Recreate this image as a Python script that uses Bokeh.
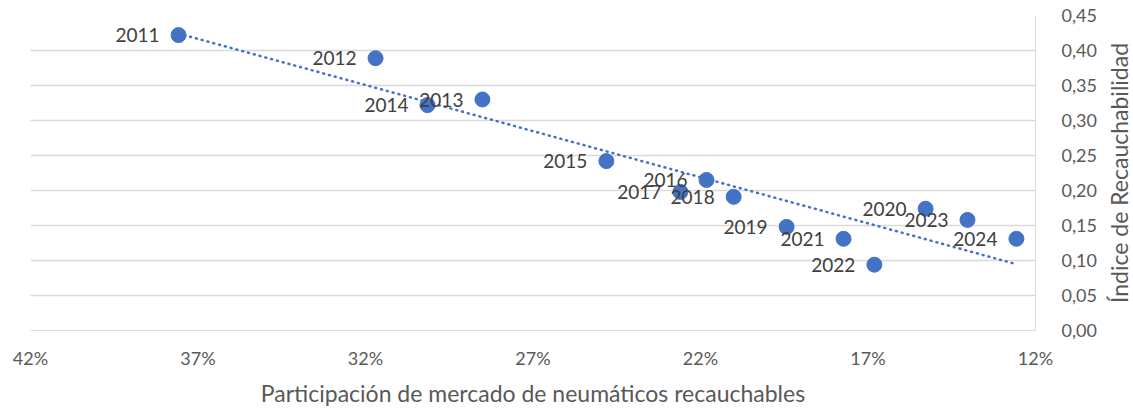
import numpy as np
from bokeh.plotting import figure
from bokeh.layouts import row
from bokeh.models import Range1d, FixedTicker, CustomJSTickFormatter, ColumnDataSource, Title
from bokeh.core.properties import value
from bokeh.embed import file_html
from bokeh.resources import INLINE

# Data
years = ["2011", "2012", "2013", "2014", "2015", "2016", "2017", "2018",
         "2019", "2020", "2021", "2022", "2023", "2024"]
market_share = [0.3758, 0.3170, 0.2851, 0.3015, 0.2481, 0.2182, 0.2260, 0.2101,
                0.1943, 0.1528, 0.1773, 0.1681, 0.1403, 0.1257]
retread_index = [0.422, 0.389, 0.330, 0.322, 0.242, 0.215, 0.198, 0.191,
                 0.148, 0.174, 0.131, 0.094, 0.158, 0.131]
x_ticks = [0.42, 0.37, 0.32, 0.27, 0.22, 0.17, 0.12]
y_ticks = [0.0, 0.05, 0.10, 0.15, 0.20, 0.25, 0.30, 0.35, 0.40, 0.45]
x_title = "Participación de mercado de neumáticos recauchables"
y_title = "Índice de Recauchabilidad"

FONT = "Lato"
BLUE = "#4472C4"
GRID = "#d9d9d9"
TXT = "#595959"
FW, FH = 1005, 315

p = figure(frame_width=FW, frame_height=FH, output_backend="svg",
           toolbar_location=None, y_axis_location="right",
           x_range=Range1d(0.42, 0.12), y_range=Range1d(0, 0.45),
           min_border_left=30, min_border_top=15, min_border_right=67,
           min_border_bottom=5)
p.outline_line_color = None
p.background_fill_color = "white"

# trend line (linear regression of the data)
slope, intercept = np.polyfit(market_share, retread_index, 1)
xs = np.array([max(market_share), min(market_share)])
p.line(xs, slope * xs + intercept, line_color=BLUE, line_width=2.5,
       line_dash="1 5", line_cap="round")

src = ColumnDataSource(dict(x=market_share, y=retread_index, year=years))
p.scatter("x", "y", source=src, size=15, fill_color=BLUE, line_color=BLUE)
p.text("x", "y", text="year", source=src, x_offset=-19, text_align="right",
       text_baseline="middle", text_font=value(FONT), text_font_size="19px",
       text_color="#404040")

# grid
p.xgrid.grid_line_color = None
p.ygrid.grid_line_color = GRID
p.ygrid.grid_line_width = 1.3

# x axis
xa = p.xaxis[0]
xa.ticker = FixedTicker(ticks=x_ticks)
xa.formatter = CustomJSTickFormatter(code="return Math.round(tick*100) + '%';")
xa.axis_line_color = GRID
xa.major_tick_line_color = None
xa.minor_tick_line_color = None
xa.major_label_standoff = 10
xa.major_label_text_font = FONT
xa.major_label_text_font_size = "18px"
xa.major_label_text_color = TXT
xa.axis_label = x_title
xa.axis_label_text_font = FONT
xa.axis_label_text_font_size = "23px"
xa.axis_label_text_font_style = "normal"
xa.axis_label_text_color = TXT
xa.axis_label_standoff = 7

# y axis (right)
ya = p.yaxis[0]
ya.ticker = FixedTicker(ticks=y_ticks)
ya.formatter = CustomJSTickFormatter(code="return tick.toFixed(2).replace('.', ',');")
ya.axis_line_color = GRID
ya.major_tick_line_color = None
ya.minor_tick_line_color = None
ya.major_label_standoff = 20
ya.major_label_text_font = FONT
ya.major_label_text_font_size = "18px"
ya.major_label_text_color = TXT

# narrow companion figure carrying the y-axis title (reads bottom-to-top)
p2 = figure(frame_width=1, frame_height=FH, output_backend="svg",
            toolbar_location=None, x_axis_location=None, y_axis_location=None,
            min_border_left=0, min_border_right=0, min_border_top=15,
            min_border_bottom=5)
p2.outline_line_color = None
p2.xgrid.grid_line_color = None
p2.ygrid.grid_line_color = None
p2.add_layout(Title(text=y_title, align="center", text_font=FONT,
                    text_font_size="23px", text_font_style="normal",
                    text_color=TXT, standoff=0, offset=0), "left")

layout = row(p, p2, spacing=0)
open("out.html", "w").write(file_html(layout, INLINE))
